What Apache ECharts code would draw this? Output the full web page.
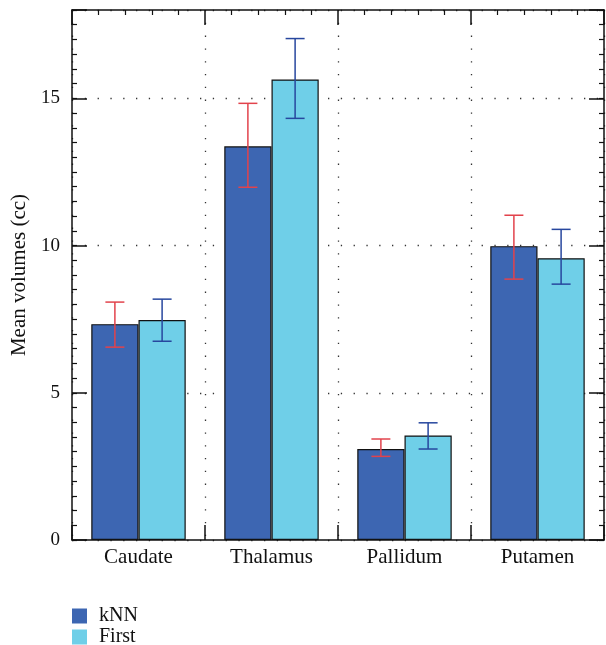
<!DOCTYPE html>
<html>
<head>
<meta charset="utf-8">
<script src="https://cdn.jsdelivr.net/npm/echarts@6/dist/echarts.min.js"></script>
<style>html,body{margin:0;padding:0;background:#fff;}#c{width:606px;height:645px;}</style>
</head>
<body>
<div id="c"></div>
<script>
var categories = ['Caudate', 'Thalamus', 'Pallidum', 'Putamen'];
var knnMean = [7.33, 13.37, 3.09, 9.98];
var knnLow = [6.55, 11.98, 2.84, 8.86];
var knnHigh = [8.08, 14.83, 3.43, 11.03];
var firstMean = [7.47, 15.64, 3.55, 9.57];
var firstLow = [6.75, 14.32, 3.09, 8.69];
var firstHigh = [8.18, 17.03, 3.98, 10.55];
var yTicks = [0, 5, 10, 15];

var FONT = 'Liberation Serif';
var chart = echarts.init(document.getElementById('c'), null, {renderer: 'canvas'});

function errSeries(name, low, high, color, side) {
  return {
    name: name + ' err',
    type: 'custom',
    xAxisIndex: 0,
    yAxisIndex: 0,
    z: 6,
    data: categories.map(function (c, i) { return [i, low[i], high[i]]; }),
    renderItem: function (params, api) {
      var band = api.size([1, 0])[0];
      var off = side * band * 0.71 / 4;
      var lo = api.coord([api.value(0), api.value(1)]);
      var hi = api.coord([api.value(0), api.value(2)]);
      var x = lo[0] + off;
      var cap = 9.5;
      var st = {stroke: color, lineWidth: 1.5};
      return {
        type: 'group',
        children: [
          {type: 'line', shape: {x1: x, y1: lo[1], x2: x, y2: hi[1]}, style: st},
          {type: 'line', shape: {x1: x - cap, y1: lo[1], x2: x + cap, y2: lo[1]}, style: st},
          {type: 'line', shape: {x1: x - cap, y1: hi[1], x2: x + cap, y2: hi[1]}, style: st}
        ]
      };
    }
  };
}

var dotted = {color: '#333', width: 1.3, type: [1.3, 11.5]};
var black = '#111';
var gridRect = {left: 72, right: 2, top: 10, bottom: 105};

function majorTick() { return {show: true, inside: true, length: 15, lineStyle: {color: black, width: 1.5}}; }
function minorTickStyle() { return {color: black, width: 1.2}; }
function frameLine() { return {show: true, onZero: false, lineStyle: {color: black, width: 1.5}}; }

var option = {
  animation: false,
  textStyle: {fontFamily: FONT},
  grid: [
    Object.assign({}, gridRect),
    Object.assign({}, gridRect)
  ],
  legend: {
    data: ['kNN', 'First'],
    orient: 'vertical',
    left: 72,
    top: 606,
    height: 80,
    padding: 0,
    icon: 'rect',
    itemWidth: 15,
    itemHeight: 15,
    itemGap: 1,
    itemStyle: {borderWidth: 0},
    textStyle: {fontFamily: FONT, fontSize: 20, color: black, lineHeight: 15, padding: [0, 0, 0, 7]}
  },
  xAxis: [
    {
      gridIndex: 0, type: 'category', data: categories, position: 'bottom', z: 4,
      axisLine: frameLine(),
      axisTick: {show: false},
      axisLabel: {fontFamily: FONT, fontSize: 21, color: black, margin: 7},
      splitLine: {show: false}
    },
    {
      gridIndex: 0, type: 'value', min: 0, max: 4, interval: 1, position: 'top', z: 4,
      axisLine: frameLine(),
      axisLabel: {show: false},
      axisTick: majorTick(),
      minorTick: {show: true, splitNumber: 5, length: 5, lineStyle: minorTickStyle()},
      splitLine: {show: false}
    },
    {
      gridIndex: 1, type: 'value', min: 0, max: 4, interval: 1, position: 'bottom', z: 1,
      axisLine: {show: false, onZero: false},
      axisLabel: {show: false},
      axisTick: majorTick(),
      minorTick: {show: true, splitNumber: 5, length: 5, lineStyle: minorTickStyle()},
      splitLine: {show: true, lineStyle: dotted}
    }
  ],
  yAxis: [
    {
      gridIndex: 0, type: 'value', min: 0, max: 18, interval: 5, position: 'left', z: 3,
      name: 'Mean volumes (cc)', nameLocation: 'middle', nameGap: 35,
      nameTextStyle: {fontFamily: FONT, fontSize: 21, color: black},
      axisLine: frameLine(),
      axisTick: majorTick(),
      axisLabel: {
        fontFamily: FONT, fontSize: 19, color: black, margin: 12,
        formatter: function (v) { return yTicks.indexOf(v) >= 0 ? String(v) : ''; }
      },
      splitLine: {show: true, lineStyle: dotted}
    },
    {
      gridIndex: 0, type: 'value', min: 0, max: 18, interval: 5, position: 'right', z: 3,
      axisLine: frameLine(),
      axisTick: majorTick(),
      axisLabel: {show: false}, splitLine: {show: false}
    },
    {
      gridIndex: 1, type: 'value', min: 0, max: 18, interval: 0.5, position: 'left', z: 1,
      axisLine: {show: false, onZero: false}, axisLabel: {show: false},
      axisTick: {show: true, inside: true, length: 5, lineStyle: minorTickStyle()},
      splitLine: {show: false}
    },
    {
      gridIndex: 1, type: 'value', min: 0, max: 18, interval: 0.5, position: 'right', z: 1,
      axisLine: {show: false, onZero: false}, axisLabel: {show: false},
      axisTick: {show: true, inside: true, length: 5, lineStyle: minorTickStyle()},
      splitLine: {show: false}
    }
  ],
  series: [
    {
      name: 'kNN', type: 'bar', xAxisIndex: 0, yAxisIndex: 0, z: 5,
      data: knnMean, barGap: '0%', barCategoryGap: '29%',
      itemStyle: {color: '#3d66b2', borderColor: black, borderWidth: 1.2}
    },
    {
      name: 'First', type: 'bar', xAxisIndex: 0, yAxisIndex: 0, z: 5,
      data: firstMean, barGap: '0%', barCategoryGap: '29%',
      itemStyle: {color: '#6fcfe8', borderColor: black, borderWidth: 1.2}
    },
    errSeries('kNN', knnLow, knnHigh, '#e2434c', -1),
    errSeries('First', firstLow, firstHigh, '#27479e', 1)
  ]
};
chart.setOption(option);
</script>
</body>
</html>
